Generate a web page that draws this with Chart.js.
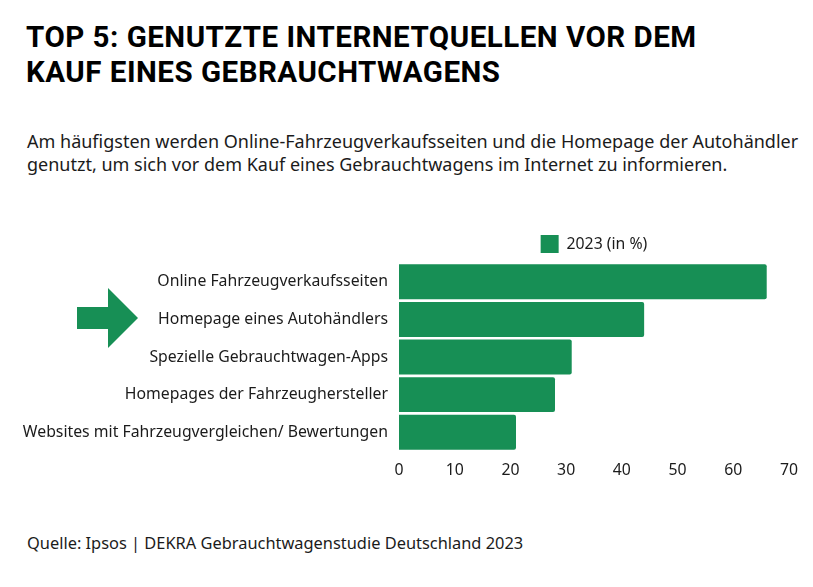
<!DOCTYPE html>
<html><head><meta charset="utf-8">
<script src="https://cdn.jsdelivr.net/npm/chart.js@4"></script>
<style>
html,body{margin:0;padding:0;background:#fff;width:813px;height:587px;overflow:hidden;}
#title{position:absolute;left:26px;top:20px;font-family:"Roboto","Liberation Sans",sans-serif;font-weight:700;font-size:29.5px;line-height:35px;color:#000;letter-spacing:0.5px;}
#sub{position:absolute;left:27px;top:130px;font-family:"Noto Sans",sans-serif;font-size:18px;line-height:23px;color:#1b1b1b;}
#foot{position:absolute;left:27px;top:532px;font-family:"Noto Sans",sans-serif;font-size:16.4px;line-height:22px;color:#1b1b1b;}
#wrap{position:absolute;left:20px;top:227px;width:785px;height:255px;}
#arrow{position:absolute;left:77px;top:288px;}
</style></head><body>
<div id="title">TOP 5: GENUTZTE INTERNETQUELLEN VOR DEM<br>KAUF EINES GEBRAUCHTWAGENS</div>
<div id="sub">Am häufigsten werden Online-Fahrzeugverkaufsseiten und die Homepage der Autohändler<br>genutzt, um sich vor dem Kauf eines Gebrauchtwagens im Internet zu informieren.</div>
<svg id="arrow" width="62" height="62" viewBox="0 0 62 62"><polygon points="0,19 31,19 31,0 61,30 31,60 31,41 0,41" fill="#178f55"/></svg>
<div id="wrap"><canvas id="c"></canvas></div>
<div id="foot">Quelle: Ipsos | DEKRA Gebrauchtwagenstudie Deutschland 2023</div>
<script>
const categories = ["Online Fahrzeugverkaufsseiten","Homepage eines Autohändlers","Spezielle Gebrauchtwagen-Apps","Homepages der Fahrzeughersteller","Websites mit Fahrzeugvergleichen/ Bewertungen"];
const seriesName = "2023 (in %)";
const values2023 = [66, 44, 31, 28, 21];
const xTicks = [0,10,20,30,40,50,60,70];

const font = {family:"Noto Sans", size:15.8};
const legendOverArea = {
  id:'legendOverArea',
  afterLayout(chart){
    const lg = chart.legend, ca = chart.chartArea;
    if(lg){ lg.left = ca.left; lg.right = ca.right; lg.width = ca.right - ca.left; }
  }
};
new Chart(document.getElementById('c'), {
  type:'bar',
  data:{labels:categories, datasets:[{label:seriesName, data:values2023, backgroundColor:'#178f55', borderRadius:2, barPercentage:0.93, categoryPercentage:1}]},
  options:{
    indexAxis:'y', responsive:true, maintainAspectRatio:false, animation:false,
    layout:{padding:{right:16}},
    plugins:{
      legend:{labels:{font:font, color:'#1b1b1b', boxWidth:18, boxHeight:18, padding:8}},
      tooltip:{enabled:false}
    },
    scales:{
      x:{min:0,max:70, grid:{display:false}, border:{display:false},
         afterBuildTicks:(s)=>{s.ticks=xTicks.map(v=>({value:v}));},
         ticks:{font:font,color:'#1b1b1b',padding:2}},
      y:{grid:{display:false}, border:{display:false},
         afterFit:(s)=>{s.width=379;},
         ticks:{font:font,color:'#1b1b1b',padding:3}}
    }
  },
  plugins:[legendOverArea]
});
</script>
</body></html>
